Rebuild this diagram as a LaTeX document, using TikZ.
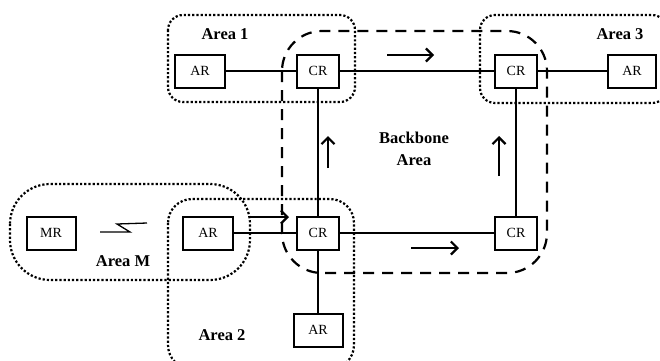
\documentclass[tikz,border=0pt]{standalone}
\usepackage{fontspec}
\setmainfont{Liberation Serif}
\usetikzlibrary{arrows.meta}
\tikzset{
  router/.style={draw, fill=white, line width=2pt, minimum height=33pt, inner sep=0pt, font=\fontsize{14}{16}\selectfont},
  crbox/.style={router, minimum width=42pt},
  arbox/.style={router, minimum width=50pt},
  link/.style={line width=2pt},
  area/.style={line width=2.2pt, dash pattern=on 2.2pt off 2pt},
  backbone/.style={line width=2.2pt, dash pattern=on 11pt off 8pt},
  flow/.style={line width=2.2pt, -{Straight Barb[length=6.5pt,width=13pt,line width=2.2pt]}},
  lbl/.style={font=\bfseries\fontsize{16.5}{22}\selectfont, align=center}
}
\begin{document}
\begin{tikzpicture}[x=1pt,y=-1pt]
\useasboundingbox (0,0) rectangle (660,360);
\clip (0,0) rectangle (660,360);

% area outlines
\draw[area, rounded corners=15pt] (168,15) rectangle (355,102);
\draw[area, rounded corners=15pt] (480,15) rectangle (667,103);
\draw[area, rounded corners=24pt] (168,199) rectangle (354,369);
\draw[area, rounded corners=40pt] (10,184) rectangle (250,280);
\draw[backbone, rounded corners=40pt] (282,31) rectangle (547,273);

% routers
\node[arbox] (ar1) at (200,71) {AR};
\node[crbox] (cr1) at (318,71) {CR};
\node[crbox] (cr3) at (516,71) {CR};
\node[arbox, minimum width=48pt] (ar3) at (632,71) {AR};
\node[crbox] (cr2) at (318,233) {CR};
\node[crbox] (cr4) at (516,233) {CR};
\node[arbox] (arl) at (208,233) {AR};
\node[arbox, minimum width=49pt] (arb) at (318,330) {AR};
\node[arbox, minimum width=49pt] (mr) at (51,233) {MR};

% links
\draw[link] (ar1) -- (cr1);
\draw[link] (cr1) -- (cr3);
\draw[link] (cr3) -- (ar3);
\draw[link] (cr1) -- (cr2);
\draw[link] (cr3) -- (cr4);
\draw[link] (cr2) -- (cr4);
\draw[link] (arl) -- (cr2);
\draw[link] (cr2) -- (arb);

% wireless link symbol
\coordinate (w1) at (100,232);
\coordinate (w2) at (130,232);
\coordinate (w3) at (117,224);
\coordinate (w4) at (147,223);
\draw[line width=1.3pt] (w1) -- (w2) -- (w3) -- (w4);

% traffic direction
\coordinate (f1a) at (387,55);  \coordinate (f1b) at (434,55);
\coordinate (f2a) at (328,168); \coordinate (f2b) at (328,136);
\coordinate (f3a) at (499,176); \coordinate (f3b) at (499,136);
\coordinate (f4a) at (411,248); \coordinate (f4b) at (459,248);
\coordinate (f5a) at (249,217); \coordinate (f5b) at (289,217);
\draw[flow] (f1a) -- (f1b);
\draw[flow] (f2a) -- (f2b);
\draw[flow] (f3a) -- (f3b);
\draw[flow] (f4a) -- (f4b);
\draw[flow] (f5a) -- (f5b);

% labels
\node[lbl] (l1) at (225,34) {Area 1};
\node[lbl] (l3) at (620,34) {Area 3};
\node[lbl] (lb) at (414,149) {Backbone\\Area};
\node[lbl] (lm) at (123,261) {Area M};
\node[lbl] (l2) at (222,335) {Area 2};
\end{tikzpicture}
\end{document}
